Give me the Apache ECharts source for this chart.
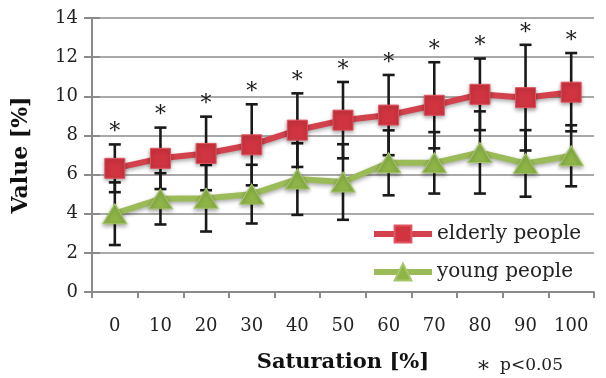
<!DOCTYPE html>
<html>
<head>
<meta charset="utf-8">
<script src="https://cdn.jsdelivr.net/npm/echarts@6/dist/echarts.min.js"></script>
<style>html,body{margin:0;padding:0;background:#fff}#c{width:606px;height:378px}</style>
</head>
<body>
<div id="c"></div>
<script>
var categories = ['0','10','20','30','40','50','60','70','80','90','100'];
var elderlyMean = [6.32, 6.83, 7.08, 7.52, 8.27, 8.78, 9.04, 9.54, 10.1, 9.93, 10.21];
var elderlySD   = [1.22, 1.57, 1.88, 2.07, 1.88, 1.95, 2.05, 2.2, 1.83, 2.7, 2.0];
var youngMean   = [4.0, 4.76, 4.79, 5.0, 5.77, 5.62, 6.6, 6.6, 7.13, 6.57, 6.96];
var youngSD     = [1.6, 1.31, 1.7, 1.5, 1.83, 1.93, 1.66, 1.57, 2.1, 1.7, 1.56];
var significant = [1,1,1,1,1,1,1,1,1,1,1];
var yTicks = [0,2,4,6,8,10,12,14];

var SERIF = '"DejaVu Serif", "Liberation Serif", serif';
var chart = echarts.init(document.getElementById('c'));

function barData(mean, sd) {
  return mean.map(function (m, i) { return [i, m - sd[i], m + sd[i], significant[i]]; });
}

function errRender(withStar) {
  return function (params, api) {
    var x = api.value(0);
    var lo = api.coord([x, api.value(1)]);
    var hi = api.coord([x, api.value(2)]);
    var w = 6;
    var st = { stroke: '#1a1a1a', lineWidth: 2.6 };
    var children = [
      { type: 'line', shape: { x1: lo[0], y1: lo[1], x2: hi[0], y2: hi[1] }, style: st },
      { type: 'line', shape: { x1: lo[0] - w, y1: lo[1], x2: lo[0] + w, y2: lo[1] }, style: st },
      { type: 'line', shape: { x1: hi[0] - w, y1: hi[1], x2: hi[0] + w, y2: hi[1] }, style: st }
    ];
    if (withStar && api.value(3)) {
      children.push({ type: 'text', x: hi[0], y: hi[1] - 1,
        style: { text: '*', font: '22px ' + SERIF, fill: '#1a1a1a', textAlign: 'center', textVerticalAlign: 'bottom' } });
    }
    return { type: 'group', children: children };
  };
}

var shadow = { shadowBlur: 4, shadowColor: 'rgba(0,0,0,0.35)', shadowOffsetY: 2 };

chart.setOption({
  animation: false,
  grid: { left: 92, right: 12, top: 18, bottom: 84.5, containLabel: false },
  legend: {
    orient: 'vertical', left: 366, top: 219, itemWidth: 58, itemHeight: 21, itemGap: 18,
    textStyle: { fontFamily: SERIF, fontSize: 20, color: '#222' },
    lineStyle: { width: 6 },
    data: ['elderly people', 'young people']
  },
  xAxis: {
    type: 'category', data: categories, boundaryGap: true,
    name: 'Saturation [%]', nameLocation: 'middle', nameGap: 60,
    nameTextStyle: { fontFamily: SERIF, fontWeight: 'bold', fontSize: 21, color: '#111' },
    axisLine: { lineStyle: { color: '#8a8a8a', width: 2 } },
    axisTick: { show: true, length: 6, lineStyle: { color: '#8a8a8a', width: 2 } },
    axisLabel: { fontFamily: SERIF, fontSize: 18, color: '#222', margin: 25 },
    splitLine: { show: false }
  },
  yAxis: [{
    type: 'value', min: 0, max: 14, interval: 2,
    name: 'Value [%]', nameLocation: 'middle', nameGap: 60, nameRotate: 90,
    nameTextStyle: { fontFamily: SERIF, fontWeight: 'bold', fontSize: 22, color: '#111' },
    axisLine: { show: true, lineStyle: { color: '#8a8a8a', width: 2 } },
    axisTick: { show: true, length: 8, lineStyle: { color: '#8a8a8a', width: 2 } },
    axisLabel: { fontFamily: SERIF, fontSize: 18, color: '#222', margin: 14,
      formatter: function (v) { return yTicks.indexOf(v) >= 0 ? String(v) : ''; } },
    splitLine: { show: true, lineStyle: { color: '#8c8c8c', width: 1.6 } }
  }, {
    type: 'value', min: 0, max: 14, interval: 2, position: 'left',
    axisLine: { show: false }, axisLabel: { show: false }, splitLine: { show: false },
    axisTick: { show: true, inside: true, length: 8, lineStyle: { color: '#8a8a8a', width: 2 } }
  }],
  series: [
    { type: 'custom', name: 'errY', renderItem: errRender(false), data: barData(youngMean, youngSD), z: 1, silent: true },
    { type: 'custom', name: 'errE', renderItem: errRender(true), data: barData(elderlyMean, elderlySD), z: 1, silent: true },
    { type: 'line', name: 'young people', data: youngMean, z: 3,
      symbol: 'triangle', symbolSize: [24, 20],
      lineStyle: Object.assign({ color: '#9bbb59', width: 6 }, shadow),
      itemStyle: Object.assign({ color: '#8fb548', borderColor: '#a6c66a', borderWidth: 1 }, shadow) },
    { type: 'line', name: 'elderly people', data: elderlyMean, z: 4,
      symbol: 'rect', symbolSize: 20,
      lineStyle: Object.assign({ color: '#d3424c', width: 6 }, shadow),
      itemStyle: Object.assign({ color: '#cf3440', borderColor: '#e05560', borderWidth: 1 }, shadow) }
  ],
  graphic: [
    { type: 'text', left: 476, top: 355,
      style: { text: '\u2217', font: '22px ' + SERIF, fill: '#222' } },
    { type: 'text', left: 500, top: 357,
      style: { text: 'p<0.05', font: '17px ' + SERIF, fill: '#222' } }
  ]
});
</script>
</body>
</html>
